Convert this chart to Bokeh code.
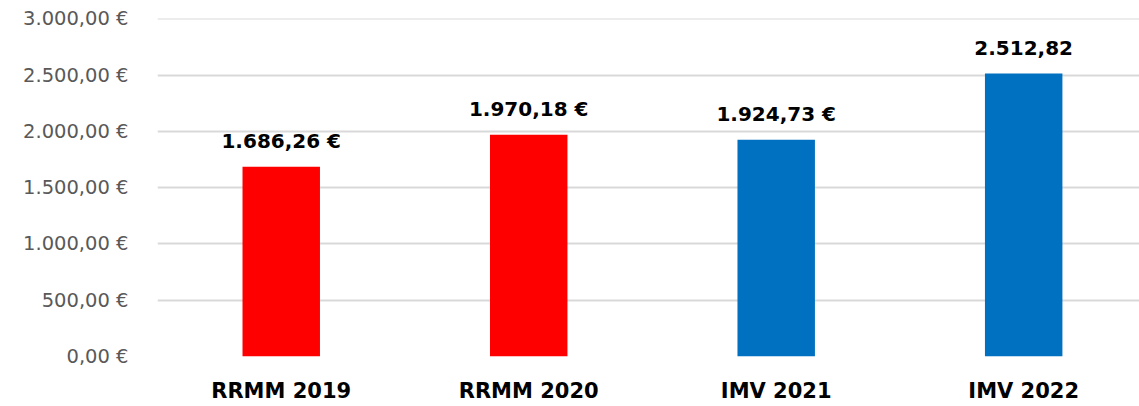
from bokeh.plotting import figure
from bokeh.models import ColumnDataSource, Range1d, FixedTicker
from bokeh.core.properties import value
from bokeh.embed import file_html
from bokeh.resources import INLINE

# ---- data ----
categories = ["RRMM 2019", "RRMM 2020", "IMV 2021", "IMV 2022"]
amounts = [1686.26, 1970.18, 1924.73, 2512.82]
value_labels = ["1.686,26 €", "1.970,18 €", "1.924,73 €", "2.512,82"]
bar_colors = ["#FF0000", "#FF0000", "#0070C0", "#0070C0"]
y_ticks = [0, 500, 1000, 1500, 2000, 2500, 3000]
y_tick_labels = ["0,00 €", "500,00 €", "1.000,00 €", "1.500,00 €",
                 "2.000,00 €", "2.500,00 €", "3.000,00 €"]

xs = list(range(len(categories)))
src = ColumnDataSource(dict(x=xs, top=amounts, label=value_labels, color=bar_colors))

FONT = "DejaVu Sans"

p = figure(width=1139, height=406, output_backend="svg", toolbar_location=None,
           x_range=Range1d(-0.5, 3.468), y_range=Range1d(0, 3002))
p.min_border_left = 157
p.min_border_right = 0
p.min_border_top = 18
p.min_border_bottom = 50
p.outline_line_color = None
p.background_fill_color = "white"
p.border_fill_color = "white"

p.vbar(x="x", top="top", width=0.313, bottom=0, color="color", line_color=None, source=src)

p.text(x="x", y="top", text="label", source=src, text_align="center",
       text_baseline="alphabetic", y_offset=-26, text_color="black",
       text_font=value(FONT), text_font_style="bold", text_font_size="20px")

# grid
p.xgrid.grid_line_color = None
p.ygrid.grid_line_color = "#d9d9d9"
p.ygrid.grid_line_width = 2

# y axis
p.yaxis.ticker = FixedTicker(ticks=y_ticks)
p.yaxis.major_label_overrides = {t: l for t, l in zip(y_ticks, y_tick_labels)}
p.yaxis.axis_line_color = None
p.yaxis.major_tick_line_color = None
p.yaxis.minor_tick_line_color = None
p.yaxis.major_tick_out = 0
p.yaxis.major_tick_in = 0
p.yaxis.major_label_standoff = 29
p.yaxis.major_label_text_font = FONT
p.yaxis.major_label_text_font_size = "19.5px"
p.yaxis.major_label_text_color = "#595959"

# x axis
p.xaxis.ticker = FixedTicker(ticks=xs)
p.xaxis.major_label_overrides = {i: c for i, c in zip(xs, categories)}
p.xaxis.axis_line_color = None
p.xaxis.major_tick_line_color = None
p.xaxis.minor_tick_line_color = None
p.xaxis.major_tick_out = 0
p.xaxis.major_tick_in = 0
p.xaxis.major_label_standoff = 22
p.xaxis.major_label_text_font = FONT
p.xaxis.major_label_text_font_style = "bold"
p.xaxis.major_label_text_font_size = "21px"
p.xaxis.major_label_text_color = "black"

open("out.html", "w").write(file_html(p, INLINE))
